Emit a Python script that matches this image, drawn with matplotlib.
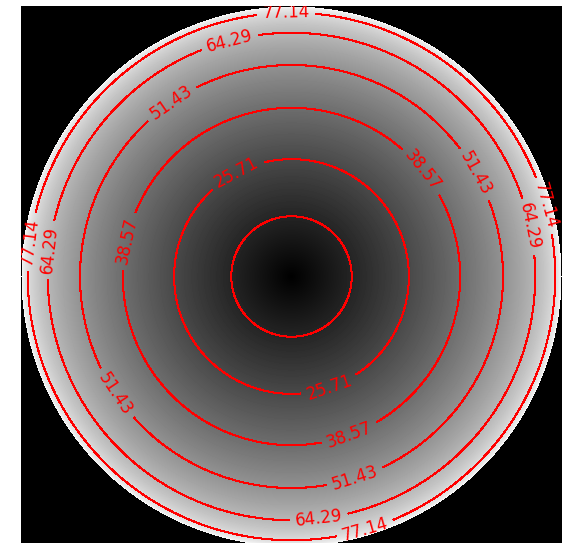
import numpy as np
import matplotlib
matplotlib.use("Agg")
import matplotlib.pyplot as plt

# zenith angle (deg) over the unit disk, black at zenith, white at horizon
levels = [12.86, 25.71, 38.57, 51.43, 64.29, 77.14]
zmax = 90.0
npix = 541

xs = np.linspace(-1, 1, npix)
X, Y = np.meshgrid(xs, xs)
R = np.hypot(X, Y)
Z = np.degrees(np.arcsin(np.clip(R, 0, 1)))
Z = np.ma.masked_where(R > 1, Z)

# where the labels sit (data coords)
label_pos = [
    (-0.19, 0.36), (0.14, -0.41),
    (-0.60, 0.13), (0.47, 0.38), (0.22, -0.60),
    (-0.45, 0.65), (0.68, 0.38), (-0.66, -0.44), (0.24, -0.76),
    (-0.23, 0.88), (0.86, 0.18), (-0.90, 0.10), (0.10, -0.89),
    (-0.02, 0.98), (0.93, 0.26), (-0.97, 0.13), (0.27, -0.93),
]

fig = plt.figure(figsize=(5.66, 5.43), dpi=100, facecolor="white")
W, H = 566, 543
ax = fig.add_axes([21 / W, 1 - (6 + 541) / H, 541 / W, 541 / H])
ax.set_facecolor("black")

cmap = plt.get_cmap("gray").copy()
cmap.set_bad("black")
ax.imshow(Z, cmap=cmap, vmin=0, vmax=zmax, origin="lower",
          extent=(-1, 1, -1, 1), interpolation="nearest")

cs = ax.contour(X, Y, Z, levels=levels, colors="red", linewidths=0.75,
                antialiased=False)
ax.clabel(cs, fmt="%.2f", fontsize=12, inline=True,
          inline_spacing=6, manual=label_pos)

ax.set_xlim(-1, 1)
ax.set_ylim(-1, 1)
ax.set_aspect("equal")
ax.axis("off")

fig.savefig("out.png", dpi=100, facecolor="white")
